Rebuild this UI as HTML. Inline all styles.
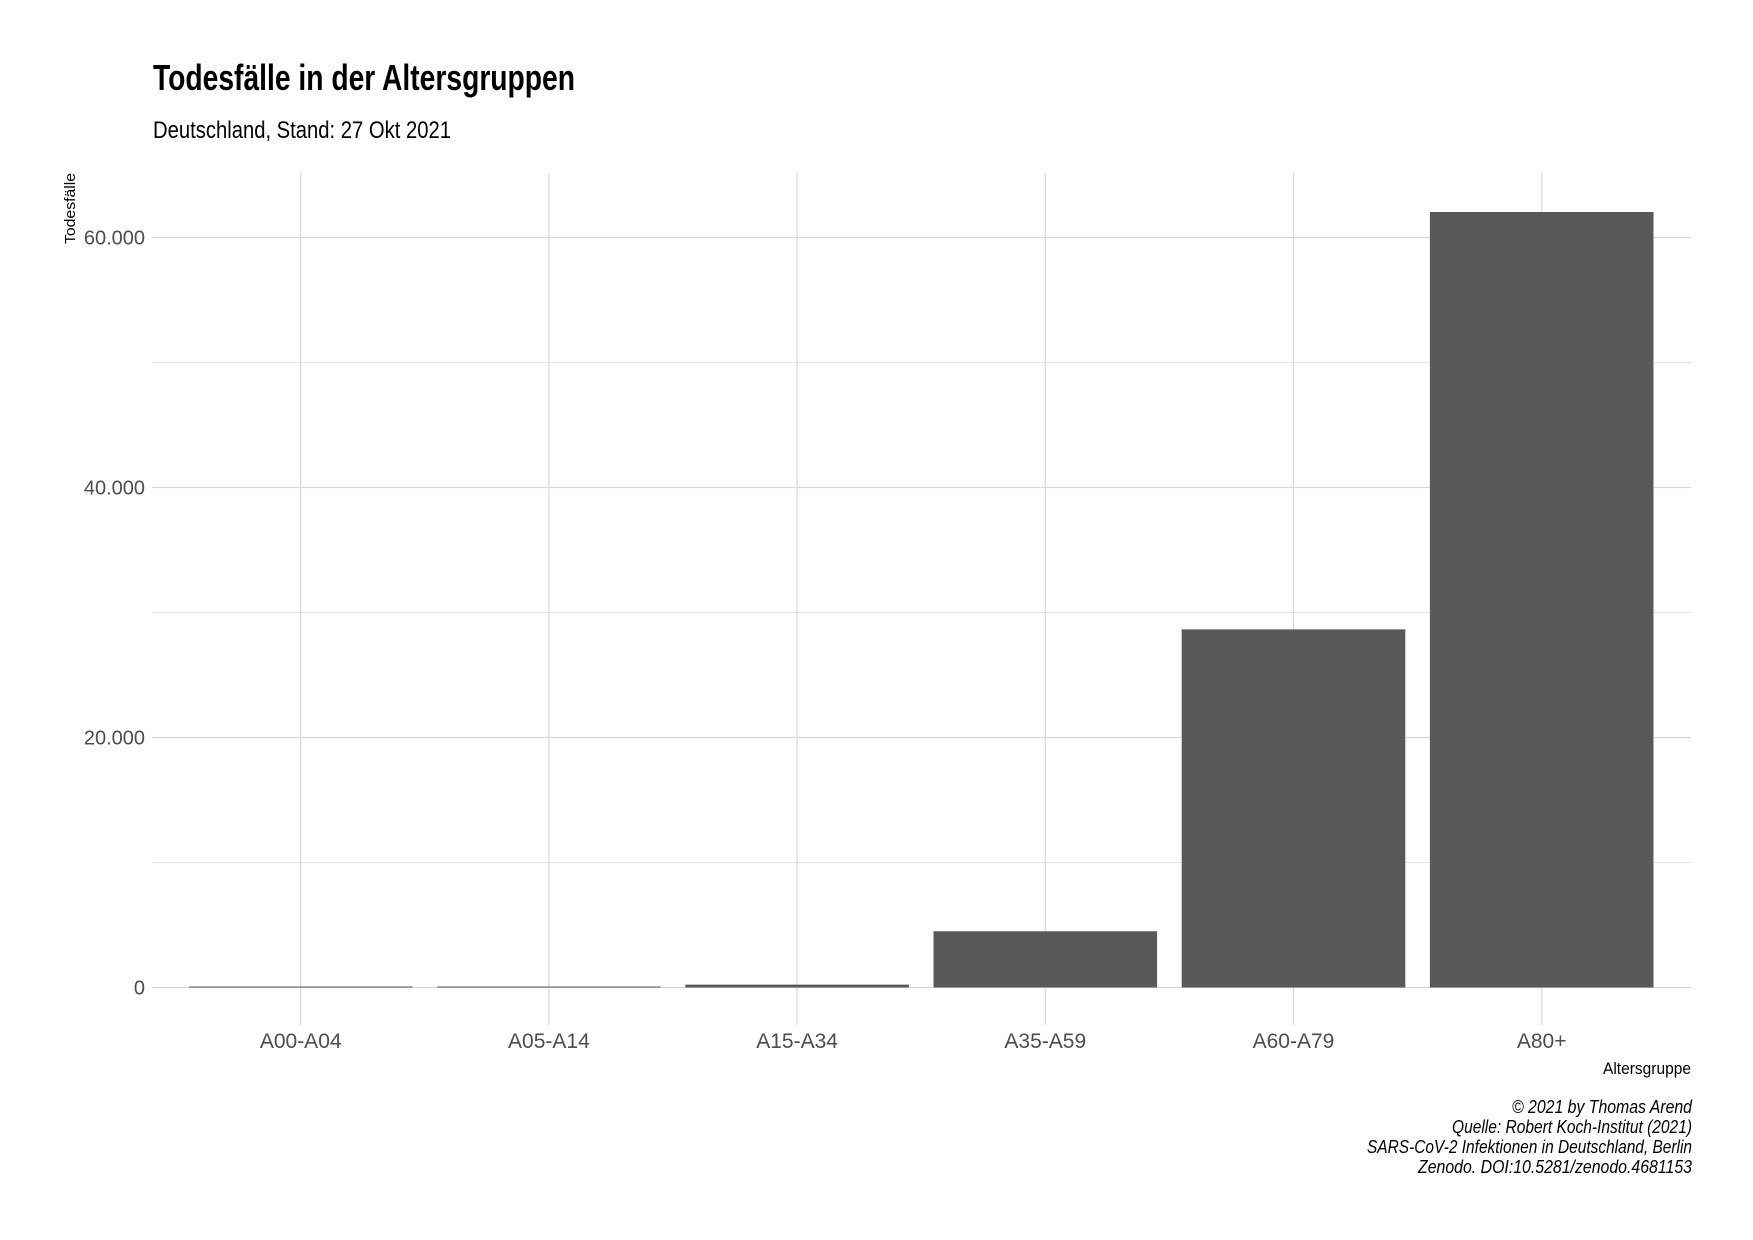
<!DOCTYPE html>
<html><head><meta charset="utf-8"><style>
html,body{margin:0;padding:0;background:#fff;}
svg{display:block;font-family:"Liberation Sans Narrow","Liberation Sans",sans-serif;}
</style></head><body>
<svg id="chart" width="1753" height="1240" viewBox="0 0 1753 1240" xmlns="http://www.w3.org/2000/svg">
<rect width="1753" height="1240" fill="#fff"/>
<text x="153" y="90" font-size="36" font-weight="bold" textLength="422" lengthAdjust="spacingAndGlyphs" fill="#000">Todesfälle in der Altersgruppen</text>
<text x="153" y="138" font-size="24" textLength="298" lengthAdjust="spacingAndGlyphs" fill="#000">Deutschland, Stand: 27 Okt 2021</text>
<g id="grid"></g>
<g id="bars"></g>
<g id="axes"></g>
<text transform="translate(75,244) rotate(-90)" font-size="15" textLength="71" lengthAdjust="spacingAndGlyphs" fill="#000">Todesfälle</text>
<text x="1691" y="1074" font-size="17" text-anchor="end" textLength="88" lengthAdjust="spacingAndGlyphs" fill="#000">Altersgruppe</text>
<g font-size="18" font-style="italic" text-anchor="end" fill="#000">
<text x="1692" y="1113" textLength="180" lengthAdjust="spacingAndGlyphs">© 2021 by Thomas Arend</text>
<text x="1692" y="1133" textLength="240" lengthAdjust="spacingAndGlyphs">Quelle: Robert Koch-Institut (2021)</text>
<text x="1692" y="1153" textLength="325" lengthAdjust="spacingAndGlyphs">SARS-CoV-2 Infektionen in Deutschland, Berlin</text>
<text x="1692" y="1173" textLength="274" lengthAdjust="spacingAndGlyphs">Zenodo. DOI:10.5281/zenodo.4681153</text>
</g>
</svg>
<script>
const categories = ["A00-A04","A05-A14","A15-A34","A35-A59","A60-A79","A80+"];
const deaths = [8, 25, 230, 4500, 28650, 62040];
const yTicks = [0, 20000, 40000, 60000];
const yTickLabels = ["0","20.000","40.000","60.000"];
const yMinor = [10000, 30000, 50000];

const NS = "http://www.w3.org/2000/svg";
const plotLeft = 152, plotRight = 1691, plotTop = 173, plotBottom = 1025;
const y0 = 987.5, pxPerUnit = 250 / 20000;
const firstX = 300.7, step = 248.2, barW = 223.6;
function yScale(v){ return y0 - v * pxPerUnit; }
function xScale(i){ return firstX + i * step; }
function mk(tag, attrs, parent){
  const e = document.createElementNS(NS, tag);
  for (const k in attrs) e.setAttribute(k, attrs[k]);
  parent.appendChild(e); return e;
}
const gridG = document.getElementById('grid');
const barsG = document.getElementById('bars');
const axesG = document.getElementById('axes');

yMinor.forEach(v => {
  const l = mk('line', {x1:plotLeft, x2:plotRight, y1:yScale(v), y2:yScale(v), stroke:'#e6e6e6', 'stroke-width':1}, gridG);
  
  
});
yTicks.forEach((v, i) => {
  const l = mk('line', {x1:plotLeft, x2:plotRight, y1:yScale(v), y2:yScale(v), stroke:'#d9d9d9', 'stroke-width':1.2}, gridG);
  
  
  const t = mk('text', {x:145, y:yScale(v) + 7, 'font-size':20, 'text-anchor':'end', fill:'#4d4d4d'}, axesG);
  t.textContent = yTickLabels[i];
  
  
});
categories.forEach((c, i) => {
  const x = xScale(i);
  const l = mk('line', {x1:x, x2:x, y1:plotTop, y2:plotBottom, stroke:'#d9d9d9', 'stroke-width':1.2}, gridG);
  
  
  const h = Math.max(1, y0 - yScale(deaths[i]));
  const r = mk('rect', {x:x - barW/2, y:y0 - h, width:barW, height:h, fill:'#595959'}, barsG);
  
  
  const t = mk('text', {x:x, y:1048, 'font-size':21, 'text-anchor':'middle', fill:'#4d4d4d'}, axesG);
  t.textContent = c;
  
  
});
</script>
</body></html>
